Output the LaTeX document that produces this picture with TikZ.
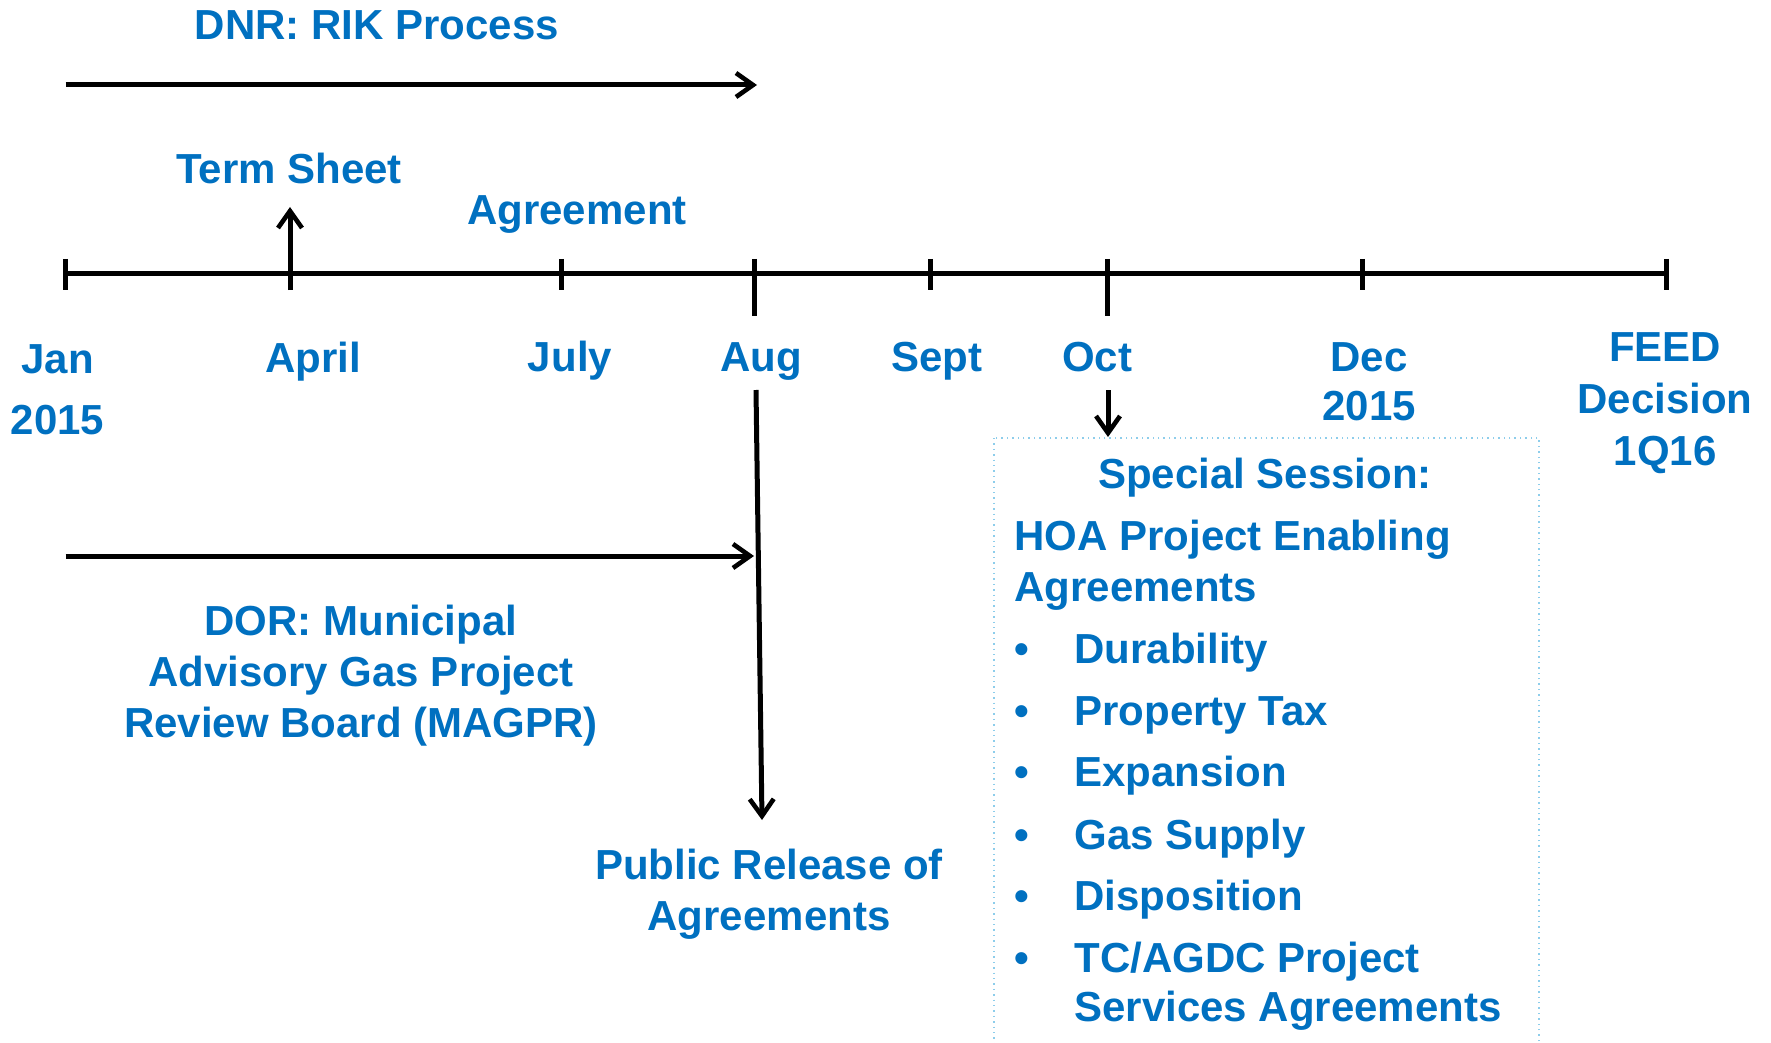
\documentclass[tikz,border=0pt]{standalone}
\usepackage{fontspec}
\setmainfont{Liberation Sans}
\usetikzlibrary{arrows.meta}
\definecolor{tblue}{HTML}{0070C0}
\definecolor{boxline}{HTML}{8DCDEB}
\begin{document}
\begin{tikzpicture}[x=0.5pt,y=-0.5pt,
  lbl/.style={text=tblue,font=\bfseries\fontsize{21}{25.4}\selectfont,inner sep=0pt,anchor=base},
  lbll/.style={lbl,anchor=base west},
  ln/.style={line width=2.5pt,black},
  arr/.style={ln,-{Straight Barb[length=8.5pt,width=12pt,line width=2.3pt]}}]
\useasboundingbox (0,0) rectangle (1771,1043);
% box
\draw[boxline,dotted,line width=0.7pt] (994,438) rectangle (1539,1080);
% top labels
\node[lbl] (dnr) at (377,40) {DNR: RIK Process};
\node[lbl] (term) at (289,184) {Term Sheet};
\node[lbl] (agr) at (577,225) {Agreement};
% coordinates
\coordinate (dnrA) at (65.5,85);
\coordinate (dnrB) at (757,85);
\coordinate (tlA) at (65.5,273);
\coordinate (tlB) at (1666,273);
\draw[arr] (dnrA) -- (dnrB);
\draw[ln] (tlA) -- (tlB);
% ticks
\foreach \x/\n in {65.5/t1,290/t2,561/t3,930/t5,1362/t7,1666/t8}{
  \coordinate (\n a) at (\x,259);
  \coordinate (\n b) at (\x,290);
  \draw[ln] (\n a) -- (\n b);
}
\coordinate (t4a) at (754,259); \coordinate (t4b) at (754,316);
\draw[ln] (t4a) -- (t4b);
\coordinate (t6a) at (1107,259); \coordinate (t6b) at (1107,316);
\draw[ln] (t6a) -- (t6b);
\coordinate (tsTip) at (290,207);
\draw[arr] (t2b) -- (tsTip);
% month labels
\node[lbl] (jan) at (57.6,373) {Jan};
\node[lbl] (jan2) at (57.6,434) {2015};
\node[lbl] (apr) at (313,372) {April};
\node[lbl] (jul) at (570,371) {July};
\node[lbl] (aug) at (761,371) {Aug};
\node[lbl] (sep) at (937,371) {Sept};
\node[lbl] (oct) at (1097,371) {Oct};
\node[lbl] (dec) at (1369,371) {Dec};
\node[lbl] (dec2) at (1369,420) {2015};
\node[lbl] (feed) at (1665,361) {FEED};
\node[lbl] (feed2) at (1665,413) {Decision};
\node[lbl] (feed3) at (1665,465) {1Q16};
% Aug arrow
\coordinate (augA) at (756,390);
\coordinate (augB) at (762,820);
\draw[arr] (augA) -- (augB);
% Oct arrow
\coordinate (octA) at (1108,390);
\coordinate (octB) at (1108,437);
\draw[arr] (octA) -- (octB);
% DOR arrow
\coordinate (dorA) at (65.5,556);
\coordinate (dorB) at (754,556);
\draw[arr] (dorA) -- (dorB);
\node[lbl] (dor1) at (361,635) {DOR: Municipal};
\node[lbl] (dor2) at (361,686) {Advisory Gas Project};
\node[lbl] (dor3) at (361,737) {Review Board (MAGPR)};
\node[lbl] (pub1) at (769,879) {Public Release of};
\node[lbl] (pub2) at (769,930) {Agreements};
% box contents
\node[lbl] (ss) at (1265,488) {Special Session:};
\node[lbll] (hoa1) at (1014,550) {HOA Project Enabling};
\node[lbll] (hoa2) at (1014,601) {Agreements};
\foreach \y/\t/\n in {663/Durability/b1,725/Property Tax/b2,786/Expansion/b3,849/Gas Supply/b4,910/Disposition/b5}{
  \node[lbll] (\n d) at (1014,\y) {•};
  \node[lbll] (\n) at (1074,\y) {\t};
}
\node[lbll] (b6d) at (1014,972) {•};
\node[lbll] (b6) at (1074,972) {TC/AGDC Project};
\node[lbll] (b7) at (1074,1021) {Services Agreements};
\end{tikzpicture}
\end{document}
